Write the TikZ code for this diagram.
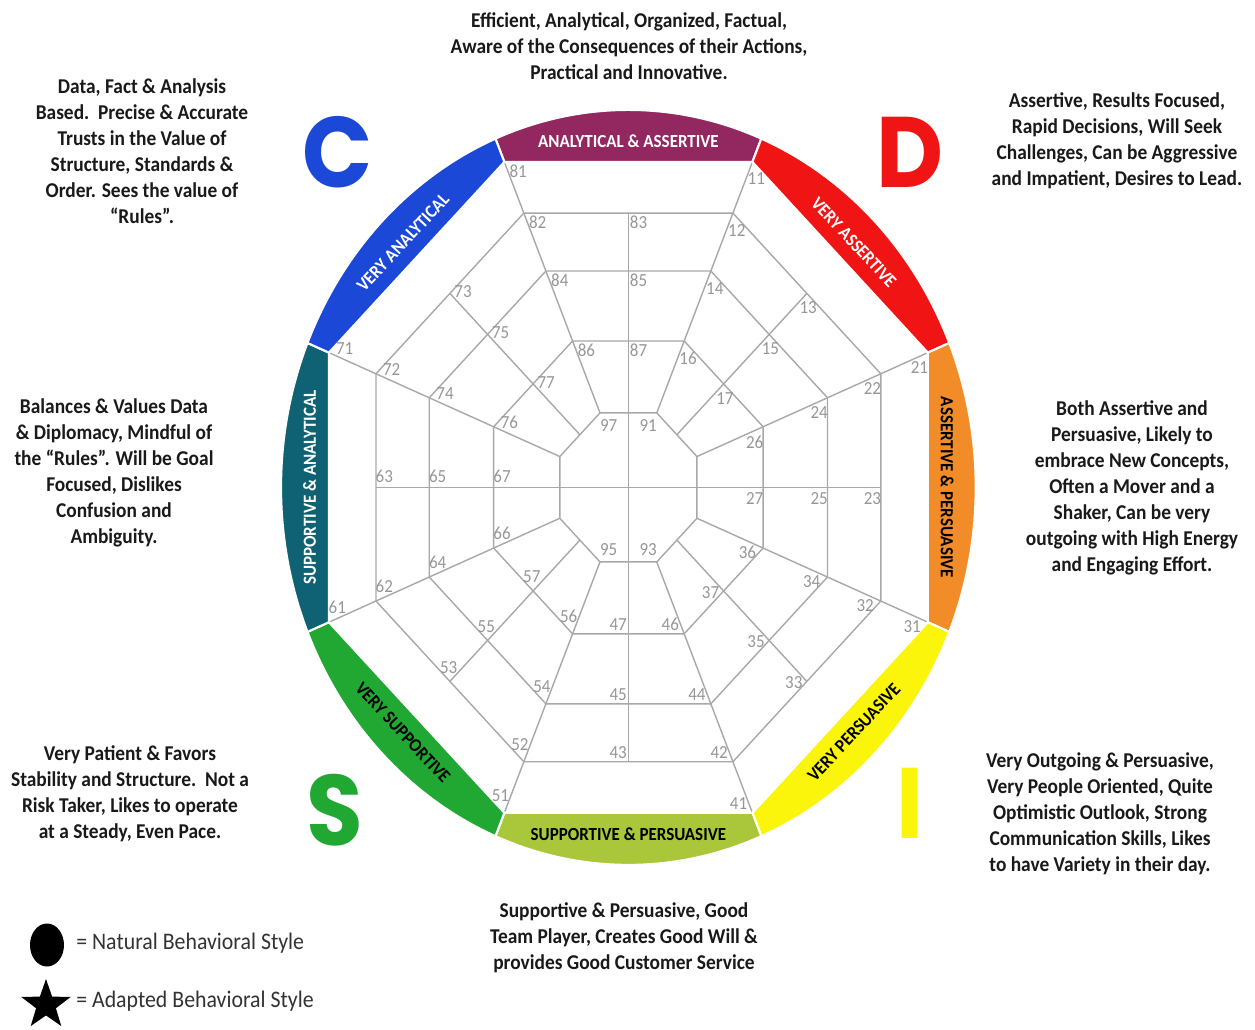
\documentclass[tikz,border=0pt]{standalone}
\usepackage{fontspec}
\setmainfont{Carlito}[FakeStretch=0.92]
\newfontfamily\letterfont{Poppins}[FakeStretch=0.92]
\usetikzlibrary{shapes.geometric}

\definecolor{analyticalassertive}{RGB}{147,39,96}
\definecolor{veryassertive}{RGB}{240,20,20}
\definecolor{assertivepersuasive}{RGB}{242,140,40}
\definecolor{verypersuasive}{RGB}{250,245,10}
\definecolor{supportivepersuasive}{RGB}{170,198,58}
\definecolor{verysupportive}{RGB}{32,168,50}
\definecolor{supportiveanalytical}{RGB}{14,98,115}
\definecolor{veryanalytical}{RGB}{28,72,215}
\definecolor{gridgray}{RGB}{168,168,168}
\definecolor{numgray}{RGB}{150,150,150}

\tikzset{
  gridline/.style={draw=gridgray, line width=0.8pt},
  cellnum/.style={text=numgray, font=\fontsize{10.5}{12}\selectfont, inner sep=0pt},
  ringpiece/.style={draw=white, line width=1.2pt},
  ringlabel/.style={font=\bfseries\fontsize{10.5}{12}\selectfont, inner sep=0pt},
  blurb/.style={font=\bfseries\fontsize{12}{14.8}\selectfont, align=center, text=black!90, inner sep=0pt},
  bigletter/.style={font=\letterfont\bfseries\fontsize{57}{60}\selectfont, inner sep=0pt},
  legendtext/.style={font=\fontsize{13.5}{15}\selectfont, text=black!80, anchor=base west, inner sep=0pt}
}

\begin{document}
\begin{tikzpicture}[x=0.02cm, y=-0.02cm]
  \useasboundingbox (0,0) rectangle (1255,1029);

  % the wheel: one unit is the apothem of the outer octagon
  \begin{scope}[shift={(12.57cm,-9.75cm)}, x=5.99cm, y=6.51cm]
    \foreach \r [evaluate=\r as \R using 1.0824*\r] in {1,0.843,0.665,0.45,0.229} {
      \draw[gridline] (22.5:\R) \foreach \k in {1,...,7} { -- (22.5+45*\k:\R) } -- cycle;
    }
    \foreach \k [evaluate=\k as \a using 22.5+45*\k] in {0,...,7}
      \draw[gridline] (\a:1.0824) -- (\a:0.2479);
    \foreach \a in {45,135,225,315}
      \draw[gridline] (\a:0.843) -- (\a:0.229);
    \draw[gridline] (90:0.843) -- (270:0.843);
    \draw[gridline] (0:0.843) -- (180:0.843);

    \foreach \a/\col [evaluate=\a as \b using \a+45] in {67.5/analyticalassertive, 22.5/veryassertive,
        -22.5/assertivepersuasive, -67.5/verypersuasive, -112.5/supportivepersuasive,
        -157.5/verysupportive, 157.5/supportiveanalytical, 112.5/veryanalytical}
      \filldraw[ringpiece, fill=\col] (\a:1.0824) -- (\a:1.16) arc[start angle=\a, delta angle=45, radius=1.16] -- (\b:1.0824) -- cycle;

    \foreach \nm/\a/\rot/\tc/\txt in {aa/90/0/white/ANALYTICAL \& ASSERTIVE, va/45/-47/white/VERY ASSERTIVE,
        ap/0/-90/black/ASSERTIVE \& PERSUASIVE, vp/-45/47/black/VERY PERSUASIVE,
        sp/-90/0/black/SUPPORTIVE \& PERSUASIVE, vs/-135/-47/black/VERY SUPPORTIVE,
        sa/180/90/white/SUPPORTIVE \& ANALYTICAL, van/135/47/white/VERY ANALYTICAL}
      \node[ringlabel, text=\tc, rotate=\rot] (ring\nm) at (\a:1.065) {\txt};

    \foreach \d in {1,...,8} {
      \foreach \u/\lx/\ly in {1/-0.368/0.972, 2/-0.303/0.815, 3/0.034/0.815, 4/-0.229/0.637,
          5/0.034/0.637, 6/-0.140/0.422, 7/0.034/0.422} {
        \pgfmathsetmacro\gx{\lx*cos(-45*\d) - \ly*sin(-45*\d)}
        \pgfmathsetmacro\gy{\lx*sin(-45*\d) + \ly*cos(-45*\d)}
        \node[cellnum] (c\d\u) at (\gx,\gy) {\d\u};
      }
    }
    \foreach \n/\px/\py in {97/-0.066/0.19, 91/0.066/0.19, 95/-0.066/-0.19, 93/0.066/-0.19}
      \node[cellnum] (c\n) at (\px,\py) {\n};
  \end{scope}

  \node[bigletter, text=veryanalytical] (letterC) at (338,152) {C};
  \node[bigletter, text=veryassertive] (letterD) at (910,152) {D};
  \node[bigletter, text=verysupportive] (letterS) at (335,810) {S};
  \node[bigletter, text=verypersuasive] (letterI) at (910,803) {I};

  \node[blurb] (topblurb) at (629,46) {Efficient, Analytical, Organized, Factual,\\
    Aware of the Consequences of their Actions,\\ Practical and Innovative.};
  \node[blurb] (cblurb) at (142,151) {Data, Fact \& Analysis\\ Based.\ \ Precise \& Accurate\\
    Trusts in the Value of\\ Structure, Standards \&\\ Order. Sees the value of\\ “Rules”.};
  \node[blurb] (dblurb) at (1117,141) {Assertive, Results Focused,\\ Rapid Decisions, Will Seek\\
    Challenges, Can be Aggressive\\ and Impatient, Desires to Lead.};
  \node[blurb] (csblurb) at (114,473) {Balances \& Values Data\\ \& Diplomacy, Mindful of\\
    the “Rules”. Will be Goal\\ Focused, Dislikes\\ Confusion and\\ Ambiguity.};
  \node[blurb] (diblurb) at (1132,488) {Both Assertive and\\ Persuasive, Likely to\\
    embrace New Concepts,\\ Often a Mover and a\\ Shaker, Can be very\\
    outgoing with High Energy\\ and Engaging Effort.};
  \node[blurb] (sblurb) at (130,794) {Very Patient \& Favors\\ Stability and Structure.\ \ Not a\\
    Risk Taker, Likes to operate\\ at a Steady, Even Pace.};
  \node[blurb] (iblurb) at (1100,814) {Very Outgoing \& Persuasive,\\ Very People Oriented, Quite\\
    Optimistic Outlook, Strong\\ Communication Skills, Likes\\ to have Variety in their day.};
  \node[blurb] (bottomblurb) at (624,938) {Supportive \& Persuasive, Good\\
    Team Player, Creates Good Will \&\\ provides Good Customer Service};

  \node[ellipse, fill=black, minimum width=0.68cm, minimum height=0.86cm, inner sep=0pt] (natural) at (47,945) {};
  \node[star, star points=5, star point ratio=2.5, fill=black, minimum size=1.04cm, inner sep=0pt] (adapted) at (46,1005) {};
  \node[legendtext] (naturaltext) at (76,949) {= Natural Behavioral Style};
  \node[legendtext] (adaptedtext) at (76,1007) {= Adapted Behavioral Style};
\end{tikzpicture}
\end{document}
